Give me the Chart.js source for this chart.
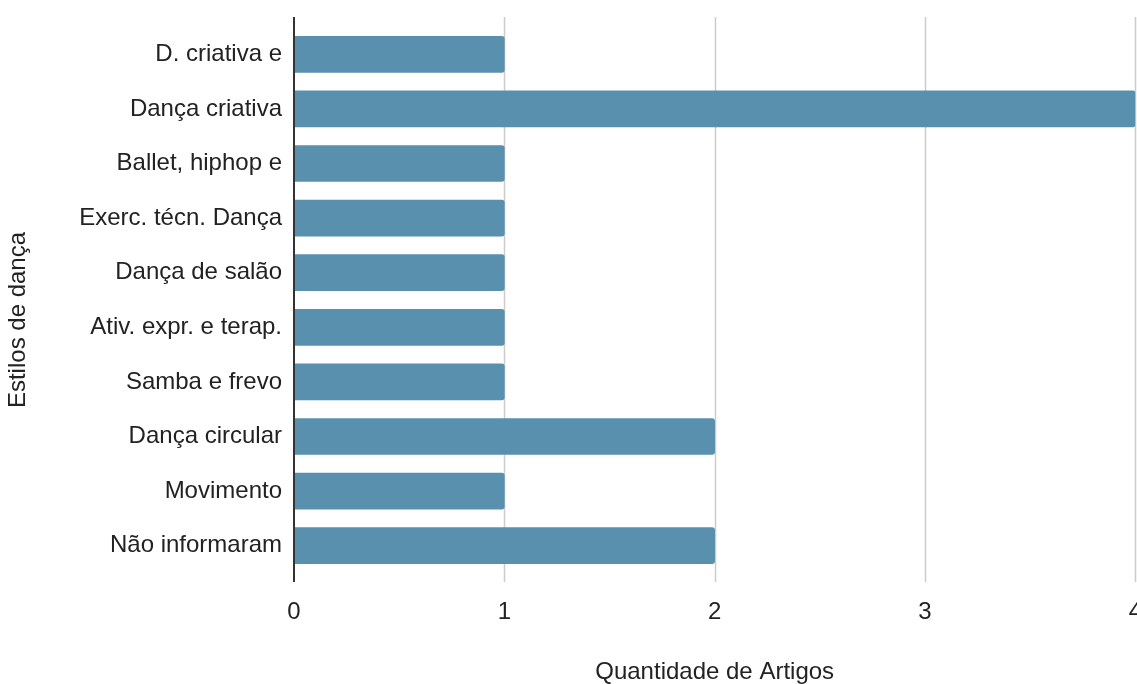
<!DOCTYPE html>
<html>
<head>
<meta charset="utf-8">
<script src="https://cdn.jsdelivr.net/npm/chart.js@4"></script>
<style>
  html, body { margin: 0; padding: 0; background: #fff; overflow: hidden; }
  #wrap { width: 1167px; height: 684px; }
</style>
</head>
<body>
<div id="wrap"><canvas id="estilos" width="1167" height="684"></canvas></div>
<script>
const estilos = [
  'D. criativa e',
  'Dança criativa',
  'Ballet, hiphop e',
  'Exerc. técn. Dança',
  'Dança de salão',
  'Ativ. expr. e terap.',
  'Samba e frevo',
  'Dança circular',
  'Movimento',
  'Não informaram',
];
const artigos = [1, 4, 1, 1, 1, 1, 1, 2, 1, 2];
const xMin = 0;
const xMax = 4;

const FONT = 'Liberation Sans, Arial, sans-serif';
const TEXT = '#222222';

// grid lines and the zero axis run a little past the plot area, top and bottom
const gridLines = {
  id: 'gridLines',
  beforeDatasetsDraw(chart) {
    const { ctx, chartArea, scales } = chart;
    ctx.save();
    ctx.strokeStyle = '#cccccc';
    ctx.lineWidth = 1.5;
    scales.x.ticks.forEach(t => {
      if (t.value === 0) return;
      const x = Math.round(scales.x.getPixelForValue(t.value)) + 0.5;
      ctx.beginPath();
      ctx.moveTo(x, chartArea.top - 10);
      ctx.lineTo(x, chartArea.bottom + 9);
      ctx.stroke();
    });
    ctx.restore();
  },
  afterDatasetsDraw(chart) {
    const { ctx, chartArea, scales } = chart;
    const x = Math.round(scales.x.getPixelForValue(0));
    ctx.save();
    ctx.strokeStyle = '#333333';
    ctx.lineWidth = 2;
    ctx.beginPath();
    ctx.moveTo(x, chartArea.top - 10);
    ctx.lineTo(x, chartArea.bottom + 9);
    ctx.stroke();
    // y axis title
    ctx.fillStyle = TEXT;
    ctx.font = '24px ' + FONT;
    ctx.textAlign = 'center';
    ctx.textBaseline = 'middle';
    ctx.translate(18, 320);
    ctx.rotate(-Math.PI / 2);
    ctx.fillText('Estilos de dança', 0, 0);
    ctx.restore();
  },
};

new Chart(document.getElementById('estilos'), {
  type: 'bar',
  data: {
    labels: estilos,
    datasets: [{
      data: artigos,
      backgroundColor: '#5990ae',
      barThickness: 36,
      borderRadius: 3,
      borderSkipped: 'start',
    }],
  },
  options: {
    indexAxis: 'y',
    responsive: false,
    animation: false,
    layout: { padding: { top: 27, right: 15, left: 0, bottom: 0 } },
    plugins: { legend: { display: false }, tooltip: { enabled: false } },
    scales: {
      x: {
        min: xMin,
        max: xMax,
        grid: { display: false, drawTicks: false },
        border: { display: false },
        ticks: { stepSize: 1, padding: 25, color: TEXT, font: { family: FONT, size: 24 } },
        title: {
          display: true,
          text: 'Quantidade de Artigos',
          color: TEXT,
          font: { family: FONT, size: 24, lineHeight: 1 },
          padding: { top: 0, bottom: 0 },
        },
        afterFit(scale) { scale.height = 111; },
      },
      y: {
        grid: { display: false, drawTicks: false },
        border: { display: false },
        ticks: { padding: 12, color: TEXT, font: { family: FONT, size: 24 } },
        afterFit(scale) { scale.width = 294; },
      },
    },
  },
  plugins: [gridLines],
});
</script>
</body>
</html>
